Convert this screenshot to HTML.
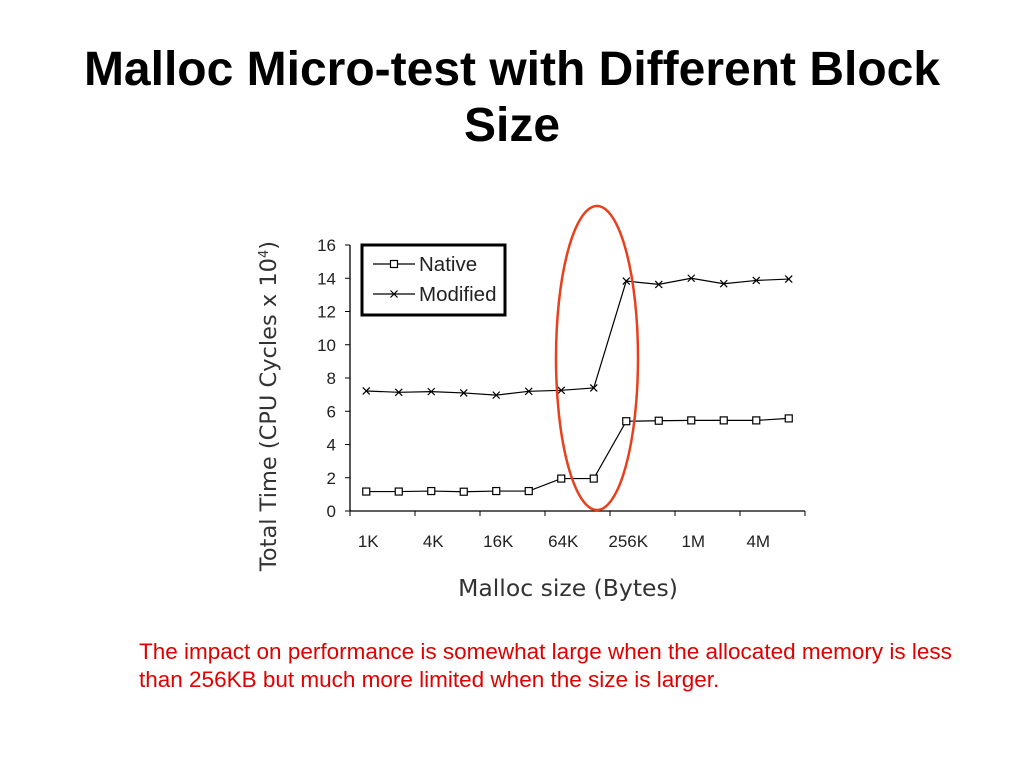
<!DOCTYPE html>
<html><head><meta charset="utf-8"><style>
body{margin:0;width:1024px;height:768px;background:#fff;overflow:hidden;font-family:"Liberation Sans",sans-serif}
.t{position:absolute;left:0;width:1024px;text-align:center;font-weight:bold;font-size:48px;color:#000;line-height:56px}
.c{position:absolute;left:139px;color:#e00000;font-size:22.5px;white-space:nowrap}
</style></head><body>
<div class="t" style="top:42px">Malloc Micro-test with Different Block</div>
<div class="t" style="top:98px">Size</div>
<svg width="1024" height="768" style="position:absolute;left:0;top:0" id="chart">
<g id="g"></g>
</svg>
<div class="c" style="top:639px">The impact on performance is somewhat large when the allocated memory is less</div>
<div class="c" style="top:667px">than 256KB but much more limited when the size is larger.</div>
<script>
const categories=["1K","2K","4K","8K","16K","32K","64K","128K","256K","512K","1M","2M","4M","8M"];
const nativeVals=[1.17,1.17,1.2,1.16,1.2,1.2,1.95,1.95,5.4,5.43,5.45,5.45,5.45,5.57];
const modifiedVals=[7.22,7.14,7.18,7.1,6.97,7.2,7.26,7.4,13.83,13.63,14.0,13.67,13.87,13.95];
const yTicks=[0,2,4,6,8,10,12,14,16];
const NS="http://www.w3.org/2000/svg";
const g=document.getElementById('g');
const x0=350,x1=805,y0=511,y1=245,ymax=16;
const step=(x1-x0)/categories.length;
const xs=i=>x0+step/2+i*step;
const ys=v=>y0-(v/ymax)*(y0-y1);
function mk(t,a,txt){const e=document.createElementNS(NS,t);for(const k in a)e.setAttribute(k,a[k]);if(txt!==undefined)e.textContent=txt;g.appendChild(e);return e;}
let e;
e=mk('line',{x1:x0,y1:y0,x2:x0,y2:y1,stroke:'#000','stroke-width':1.3});

e=mk('line',{x1:x0,y1:y0,x2:x1,y2:y0,stroke:'#000','stroke-width':1.3});

yTicks.forEach(v=>{
 e=mk('line',{x1:x0-5,y1:ys(v),x2:x0,y2:ys(v),stroke:'#000'});
 
 e=mk('text',{x:x0-14,y:ys(v)+6,'text-anchor':'end','font-size':17,fill:'#222','font-family':'Liberation Sans'},v);
 
});
for(let i=0;i<=categories.length;i+=2){
 const x=x0+i*step;
 e=mk('line',{x1:x,y1:y0,x2:x,y2:y0+5,stroke:'#000'});
 
}
categories.forEach((c,i)=>{if(i%2)return;
 e=mk('text',{x:xs(i)+2,y:y0+36,'text-anchor':'middle','font-size':17,fill:'#222','font-family':'Liberation Sans'},c);
 
});
function series(vals,name,marker){
 e=mk('polyline',{points:vals.map((v,i)=>xs(i)+','+ys(v)).join(' '),fill:'none',stroke:'#000','stroke-width':1.2});
 
 vals.forEach((v,i)=>drawMarker(xs(i),ys(v),marker,name));
}
function drawMarker(x,y,m,name){
 if(m==='sq'){e=mk('rect',{x:x-3.5,y:y-3.5,width:7,height:7,fill:'#fff',stroke:'#000','stroke-width':1.2});}
 else{e=mk('path',{d:`M${x-3.5} ${y-3.5}L${x+3.5} ${y+3.5}M${x+3.5} ${y-3.5}L${x-3.5} ${y+3.5}`,stroke:'#000','stroke-width':1.2});}
 
}
series(nativeVals,'native','sq');
series(modifiedVals,'modified','x');
e=mk('rect',{x:362,y:245,width:143,height:70,fill:'#fff',stroke:'#000','stroke-width':3});

e=mk('line',{x1:373,y1:264,x2:415,y2:264,stroke:'#000','stroke-width':1.2});

drawMarker(394,264,'sq','legend-native');
e=mk('text',{x:419,y:271,'font-size':20.5,fill:'#222','font-family':'Liberation Sans'},'Native');

e=mk('line',{x1:373,y1:294,x2:415,y2:294,stroke:'#000','stroke-width':1.2});

drawMarker(394,294,'x','legend-modified');
e=mk('text',{x:419,y:301,'font-size':20.5,fill:'#222','font-family':'Liberation Sans'},'Modified');

e=mk('ellipse',{cx:597,cy:358,rx:41,ry:152,fill:'none',stroke:'#e8401c','stroke-width':2.5});

e=mk('text',{x:0,y:0,transform:'translate(276,406) rotate(-90)','text-anchor':'middle','font-size':22.5,fill:'#333','font-family':'DejaVu Sans'});
e.innerHTML='Total Time (CPU Cycles x 10<tspan dy="-8" font-size="13">4</tspan><tspan dy="8">)</tspan>';

e=mk('text',{x:568,y:596,'text-anchor':'middle','font-size':23.5,fill:'#333','font-family':'DejaVu Sans'},'Malloc size (Bytes)');

</script>
</body></html>
